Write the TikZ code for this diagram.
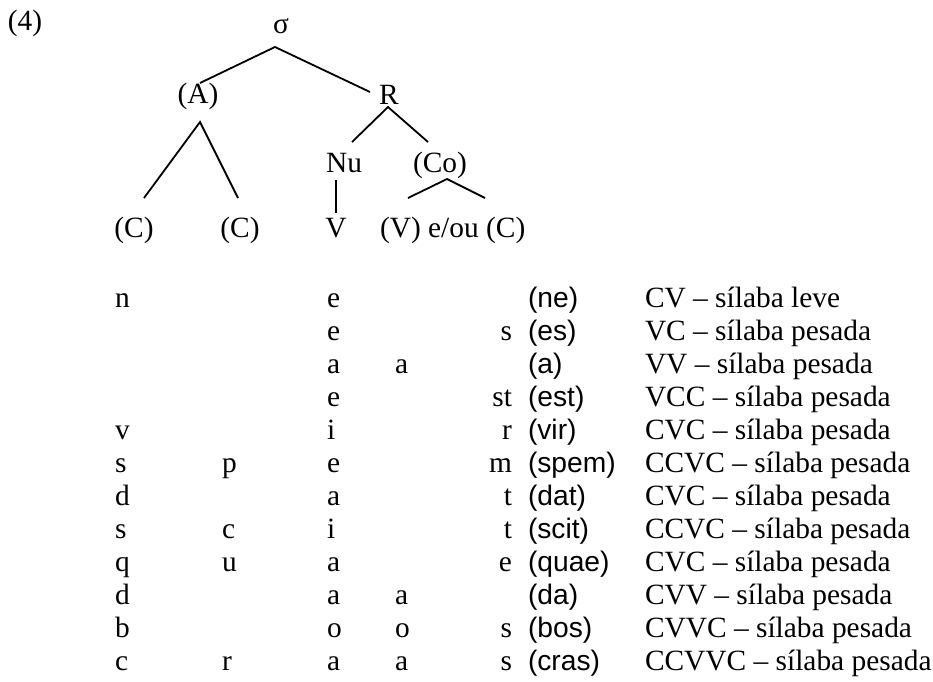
\documentclass[tikz,border=0pt]{standalone}
\usepackage{fontspec}
\setmainfont{Liberation Serif}
\newfontfamily\sansf{Liberation Sans}
\begin{document}
\begin{tikzpicture}[x=1pt,y=-1pt,
  every node/.style={inner sep=0pt,outer sep=0pt,font=\fontsize{29.4}{34}\selectfont},
  lbl/.style={anchor=base},
  cl/.style={anchor=base west},
  cr/.style={anchor=base east},
  sw/.style={anchor=base west,font=\fontsize{28.2}{34}\selectfont\sansf},
  branch/.style={line width=1.8pt}]
\useasboundingbox (0,0) rectangle (933,681);
% tree
\node[lbl] (num) at (25,30) {(4)};
\node[lbl] (sigma) at (281,33) {σ};
\node[lbl] (A) at (198,103) {(A)};
\node[lbl] (R) at (389,104) {R};
\node[lbl] (Nu) at (344,172) {Nu};
\node[lbl] (Co) at (440,172) {(Co)};
\node[lbl] (C1) at (134,237) {(C)};
\node[lbl] (C2) at (240,237) {(C)};
\node[lbl] (V) at (336,237) {V};
\node[cl] (VC) at (380,237) {(V) e/ou (C)};
\coordinate (sigmaTop) at (275,47);
\coordinate (Aup) at (200,83);
\coordinate (Rup) at (370,92);
\coordinate (Adown) at (200,122);
\coordinate (C1up) at (144,198);
\coordinate (C2up) at (238,198);
\coordinate (Rdown) at (388,107);
\coordinate (Nuup) at (352,142);
\coordinate (Coup) at (428,142);
\coordinate (Nudown) at (336,180);
\coordinate (Vup) at (336,213);
\coordinate (Codown) at (447,179);
\coordinate (VVup) at (408,198);
\coordinate (VCup) at (485,198);
\draw[branch] (Aup) -- (sigmaTop) -- (Rup);
\draw[branch] (C1up) -- (Adown) -- (C2up);
\draw[branch] (Nuup) -- (Rdown) -- (Coup);
\draw[branch] (Nudown) -- (Vup);
\draw[branch] (VVup) -- (Codown) -- (VCup);
% table
\def\ca{115}\def\cb{222}\def\cc{327}\def\cd{395}\def\ce{512}\def\cf{528}\def\cg{645}
% row 1
\node[cl] (r1a) at (\ca,307) {n};
\node[cl] (r1c) at (\cc,307) {e};
\node[sw] (r1f) at (\cf,307) {(ne)};
\node[cl] (r1g) at (\cg,307) {CV – sílaba leve};
% row 2
\node[cl] (r2c) at (\cc,340) {e};
\node[cr] (r2e) at (\ce,340) {s};
\node[sw] (r2f) at (\cf,340) {(es)};
\node[cl] (r2g) at (\cg,340) {VC – sílaba pesada};
% row 3
\node[cl] (r3c) at (\cc,373) {a};
\node[cl] (r3d) at (\cd,373) {a};
\node[sw] (r3f) at (\cf,373) {(a)};
\node[cl] (r3g) at (\cg,373) {VV – sílaba pesada};
% row 4
\node[cl] (r4c) at (\cc,406) {e};
\node[cr] (r4e) at (\ce,406) {st};
\node[sw] (r4f) at (\cf,406) {(est)};
\node[cl] (r4g) at (\cg,406) {VCC – sílaba pesada};
% row 5
\node[cl] (r5a) at (\ca,439) {v};
\node[cl] (r5c) at (\cc,439) {i};
\node[cr] (r5e) at (\ce,439) {r};
\node[sw] (r5f) at (\cf,439) {(vir)};
\node[cl] (r5g) at (\cg,439) {CVC – sílaba pesada};
% row 6
\node[cl] (r6a) at (\ca,472) {s};
\node[cl] (r6b) at (\cb,472) {p};
\node[cl] (r6c) at (\cc,472) {e};
\node[cr] (r6e) at (\ce,472) {m};
\node[sw] (r6f) at (\cf,472) {(spem)};
\node[cl] (r6g) at (\cg,472) {CCVC – sílaba pesada};
% row 7
\node[cl] (r7a) at (\ca,505) {d};
\node[cl] (r7c) at (\cc,505) {a};
\node[cr] (r7e) at (\ce,505) {t};
\node[sw] (r7f) at (\cf,505) {(dat)};
\node[cl] (r7g) at (\cg,505) {CVC – sílaba pesada};
% row 8
\node[cl] (r8a) at (\ca,538) {s};
\node[cl] (r8b) at (\cb,538) {c};
\node[cl] (r8c) at (\cc,538) {i};
\node[cr] (r8e) at (\ce,538) {t};
\node[sw] (r8f) at (\cf,538) {(scit)};
\node[cl] (r8g) at (\cg,538) {CCVC – sílaba pesada};
% row 9
\node[cl] (r9a) at (\ca,571) {q};
\node[cl] (r9b) at (\cb,571) {u};
\node[cl] (r9c) at (\cc,571) {a};
\node[cr] (r9e) at (\ce,571) {e};
\node[sw] (r9f) at (\cf,571) {(quae)};
\node[cl] (r9g) at (\cg,571) {CVC – sílaba pesada};
% row 10
\node[cl] (r10a) at (\ca,604) {d};
\node[cl] (r10c) at (\cc,604) {a};
\node[cl] (r10d) at (\cd,604) {a};
\node[sw] (r10f) at (\cf,604) {(da)};
\node[cl] (r10g) at (\cg,604) {CVV – sílaba pesada};
% row 11
\node[cl] (r11a) at (\ca,637) {b};
\node[cl] (r11c) at (\cc,637) {o};
\node[cl] (r11d) at (\cd,637) {o};
\node[cr] (r11e) at (\ce,637) {s};
\node[sw] (r11f) at (\cf,637) {(bos)};
\node[cl] (r11g) at (\cg,637) {CVVC – sílaba pesada};
% row 12
\node[cl] (r12a) at (\ca,670) {c};
\node[cl] (r12b) at (\cb,670) {r};
\node[cl] (r12c) at (\cc,670) {a};
\node[cl] (r12d) at (\cd,670) {a};
\node[cr] (r12e) at (\ce,670) {s};
\node[sw] (r12f) at (\cf,670) {(cras)};
\node[cl] (r12g) at (\cg,670) {CCVVC – sílaba pesada};
\end{tikzpicture}
\end{document}
